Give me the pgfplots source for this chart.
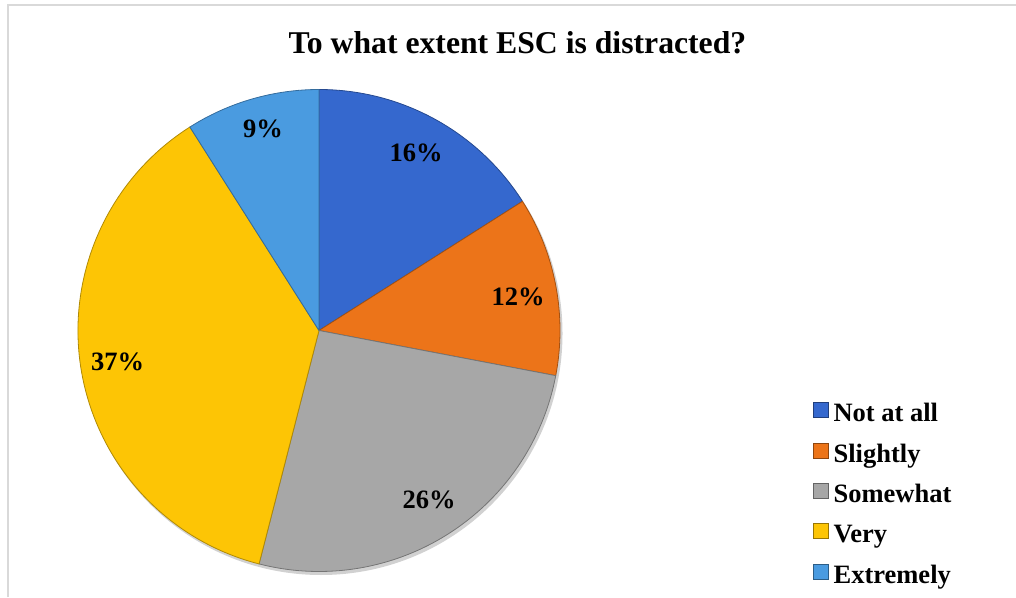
\documentclass[border=0pt]{standalone}
\usepackage{pgfplots}
\pgfplotsset{compat=1.18}
\usepackage{fontspec}
\setmainfont{Liberation Serif}
\definecolor{cNot}{HTML}{3568CE}
\definecolor{cSli}{HTML}{EC7419}
\definecolor{cSom}{HTML}{A7A7A7}
\definecolor{cVer}{HTML}{FDC505}
\definecolor{cExt}{HTML}{4A9BE0}
\definecolor{frame}{HTML}{D9D9D9}
\pgfplotsset{sqlegend/.style={legend image code/.code={\fill[##1] (0pt,-2pt) rectangle (15pt,13pt);}}}
% start (cumulative %), value (%), colour, label x, label baseline y
\newcommand{\pieslice}[5]{%
  \pgfmathsetmacro\sa{90-3.6*#1}%
  \pgfmathsetmacro\ea{90-3.6*(#1+#2)}%
  \edef\tmp{\noexpand\fill[#3, draw=#3!70!black, line width=0.8pt, line join=round]
    (axis cs:319,266.5) -- ++(\sa:241pt) arc[start angle=\sa, end angle=\ea, radius=241pt] -- cycle;
    \noexpand\node[anchor=base, font=\noexpand\bfseries\noexpand\fontsize{26.5}{30}\noexpand\selectfont]
    at (axis cs:#4,#5) {#2\noexpand\%};}%
  \tmp}
\begin{document}
\begin{tikzpicture}
\begin{axis}[
  hide axis, scale only axis,
  width=1016pt, height=597pt,
  xmin=0, xmax=1016, ymin=0, ymax=597,
  clip=true,
  legend style={at={(axis cs:813,195)}, anchor=north west, draw=none, fill=none,
    font=\bfseries\fontsize{26.5}{30}\selectfont, inner sep=0pt,
    row sep=15.4pt,
    nodes={text height=18pt, text depth=5.5pt, inner sep=0pt},
    cells={anchor=west}},
  legend cell align=left,
]
\addlegendimage{sqlegend, fill=cNot, draw=cNot!60!black}
\addlegendentry{\kern5pt Not at all}
\addlegendimage{sqlegend, fill=cSli, draw=cSli!60!black}
\addlegendentry{\kern5pt Slightly}
\addlegendimage{sqlegend, fill=cSom, draw=cSom!60!black}
\addlegendentry{\kern5pt Somewhat}
\addlegendimage{sqlegend, fill=cVer, draw=cVer!60!black}
\addlegendentry{\kern5pt Very}
\addlegendimage{sqlegend, fill=cExt, draw=cExt!60!black}
\addlegendentry{\kern5pt Extremely}
\path (axis cs:0,0) rectangle (axis cs:1016,597);
\draw[frame, line width=1.5pt] (axis cs:8,0) -- (axis cs:8,592) -- (axis cs:1016,592);
\fill[black, opacity=0.18] (axis cs:321,263.5) circle[radius=241.5pt];
\pieslice{0}{16}{cNot}{416}{435}
\pieslice{16}{12}{cSli}{518}{291}
\pieslice{28}{26}{cSom}{429}{89}
\pieslice{54}{37}{cVer}{117.5}{226}
\pieslice{91}{9}{cExt}{263}{459}
\node[anchor=base, font=\bfseries\fontsize{31.7}{36}\selectfont] at (axis cs:517.5,543) {To what extent ESC is distracted?};
\end{axis}
\end{tikzpicture}
\end{document}
